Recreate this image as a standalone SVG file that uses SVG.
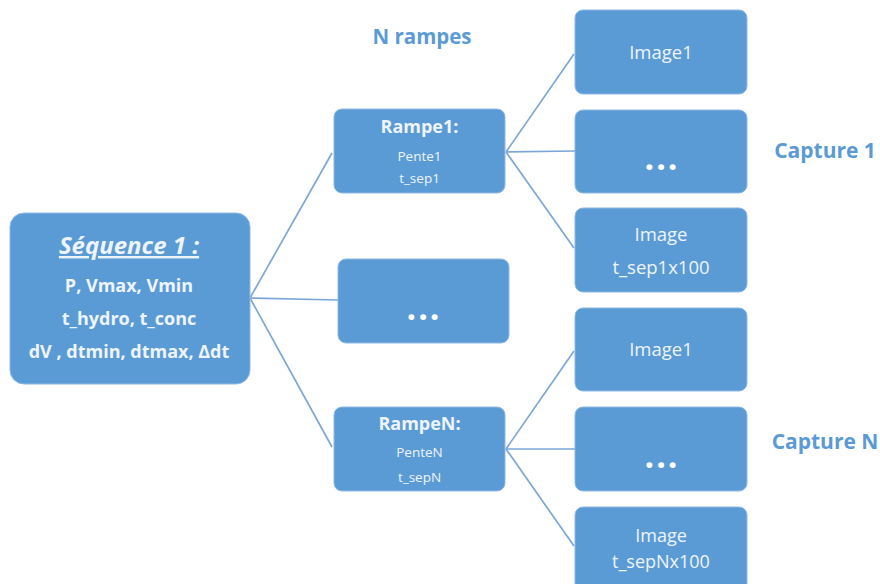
<svg xmlns="http://www.w3.org/2000/svg" width="880" height="584" viewBox="0 0 880 584">
<style>
.box{fill:#5b9bd5;stroke:#8fb8e3;stroke-width:1}
.t{font-family:"Open Sans","Liberation Sans",sans-serif;fill:#eef4fb;text-anchor:middle}
.b{font-weight:bold}
.lbl{font-family:"Open Sans","Liberation Sans",sans-serif;fill:#5b9bd5;font-weight:bold;text-anchor:middle}
.dots{font-family:"Open Sans","Liberation Sans",sans-serif;fill:#ffffff;font-weight:bold;font-size:34px;text-anchor:middle;letter-spacing:2px}
.c{stroke:#7ba7d8;stroke-width:1.7;fill:none}
</style>
<rect width="880" height="584" fill="#ffffff"/>
<g id="connectors">
<line class="c" x1="250" y1="298" x2="332" y2="153"/>
<line class="c" x1="250" y1="298" x2="338" y2="300"/>
<line class="c" x1="250" y1="298" x2="332" y2="447"/>
<line class="c" x1="506" y1="152" x2="574" y2="54"/>
<line class="c" x1="506" y1="152" x2="575" y2="151"/>
<line class="c" x1="506" y1="152" x2="574" y2="248"/>
<line class="c" x1="506" y1="449" x2="574" y2="351"/>
<line class="c" x1="506" y1="449" x2="575" y2="449"/>
<line class="c" x1="506" y1="449" x2="574" y2="546"/>
</g>
<g id="sequence">
<rect class="box" x="10" y="213" width="240" height="171" rx="14"/>
<text class="t b" x="129" y="254" font-size="24" font-style="italic" text-decoration="underline">Séquence 1 :</text>
<text class="t b" x="129" y="292" font-size="18">P, Vmax, Vmin</text>
<text class="t b" x="129" y="325" font-size="18">t_hydro, t_conc</text>
<text class="t b" x="129" y="358" font-size="18">dV , dtmin, dtmax, Δdt</text>
</g>
<g id="rampe1">
<rect class="box" x="334" y="109" width="171" height="84" rx="8"/>
<text class="t b" x="419.5" y="133" font-size="18">Rampe1:</text>
<text class="t" x="419.5" y="161" font-size="13.5">Pente1</text>
<text class="t" x="419.5" y="183" font-size="13.5">t_sep1</text>
</g>
<g id="rampes-ellipsis">
<rect class="box" x="338" y="259" width="171" height="84" rx="8"/>
<text class="dots" x="424" y="320">...</text>
</g>
<g id="rampeN">
<rect class="box" x="334" y="407" width="171" height="84" rx="8"/>
<text class="t b" x="419.5" y="430" font-size="18">RampeN:</text>
<text class="t" x="419.5" y="457" font-size="13.5">PenteN</text>
<text class="t" x="419.5" y="482" font-size="13.5">t_sepN</text>
</g>
<g id="image1-1">
<rect class="box" x="575" y="10" width="172" height="84" rx="8"/>
<text class="t" x="661" y="59" font-size="18.5">Image1</text>
</g>
<g id="images-1-ellipsis">
<rect class="box" x="575" y="110" width="172" height="83" rx="8"/>
<text class="dots" x="662" y="170">...</text>
</g>
<g id="image-last-1">
<rect class="box" x="575" y="208" width="172" height="84" rx="8"/>
<text class="t" x="661" y="241" font-size="18.5">Image</text>
<text class="t" x="661" y="274" font-size="18.5">t_sep1x100</text>
</g>
<g id="image1-N">
<rect class="box" x="575" y="308" width="172" height="83" rx="8"/>
<text class="t" x="661" y="356" font-size="18.5">Image1</text>
</g>
<g id="images-N-ellipsis">
<rect class="box" x="575" y="407" width="172" height="84" rx="8"/>
<text class="dots" x="662" y="468">...</text>
</g>
<g id="image-last-N">
<rect class="box" x="575" y="507" width="172" height="90" rx="8"/>
<text class="t" x="661" y="542" font-size="18">Image</text>
<text class="t" x="661" y="568" font-size="18">t_sepNx100</text>
</g>
<g id="labels">
<text class="lbl" x="422" y="44" font-size="20.5">N rampes</text>
<text class="lbl" x="825" y="158" font-size="21">Capture 1</text>
<text class="lbl" x="825" y="449" font-size="21">Capture N</text>
</g>
</svg>
